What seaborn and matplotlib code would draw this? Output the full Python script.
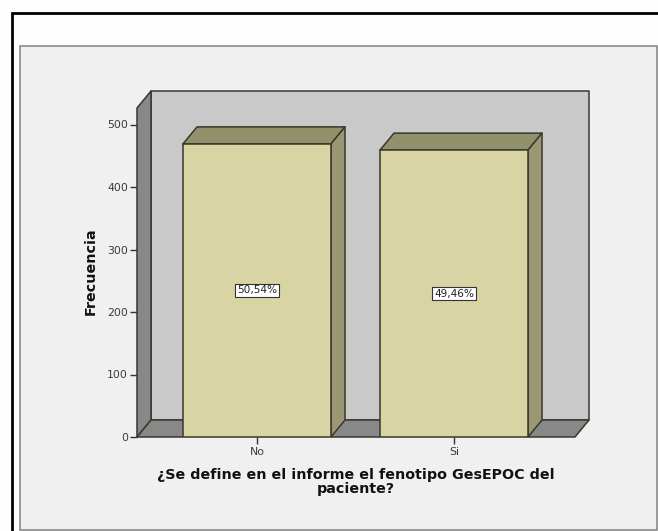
import matplotlib
matplotlib.use("Agg")
import matplotlib.pyplot as plt
from matplotlib.patches import Polygon, Rectangle
import pandas as pd
import seaborn as sns

# Survey answers and their counts
answers = ["No", "Si"]
counts = [469, 459]
share_labels = ["50,54%", "49,46%"]
y_ticks = [0, 100, 200, 300, 400, 500]

WIDTH, HEIGHT = 658, 531
FRONT = "#d8d4a3"
TOP = "#93906c"
SIDE = "#9a9772"
WALL = "#c9c9c9"
SHADE = "#888888"
EDGE = "#38382c"

sns.set_theme(style="white")
plt.rcParams["font.family"] = ["DejaVu Sans"]

fig = plt.figure(figsize=(WIDTH / 100, HEIGHT / 100), dpi=100, facecolor="#fdfdfd")


def box(x0, y0, x1, y1, **kw):
    """Rectangle on the figure, given in pixels from the top-left corner."""
    fig.add_artist(Rectangle((x0 / WIDTH, 1 - y1 / HEIGHT), (x1 - x0) / WIDTH, (y1 - y0) / HEIGHT,
                             transform=fig.transFigure, zorder=-5, **kw))


box(12, 12.5, 700, 600, facecolor="none", edgecolor="black", linewidth=2.0)
box(20, 46, 657, 530, facecolor="#f0f0f0", edgecolor="#808080", linewidth=1.1)

# Plot area = front plane of the pseudo-3D box
left, right, bottom, top = 137, 575, 437, 108
ax = fig.add_axes([left / WIDTH, 1 - bottom / HEIGHT, (right - left) / WIDTH, (bottom - top) / HEIGHT])
frame = pd.DataFrame({"respuesta": answers, "frecuencia": counts})
sns.barplot(data=frame, x="respuesta", y="frecuencia", color=FRONT, saturation=1, width=148 / 197,
            edgecolor=EDGE, linewidth=1.1, zorder=4, ax=ax)

px_x = 197.0           # pixels per category step
px_y = 0.625           # pixels per count
ax.set_xlim((left - 257) / px_x, (right - 257) / px_x)
ax.set_ylim(0, (bottom - top) / px_y)
ax.patch.set_visible(False)
for spine in ax.spines.values():
    spine.set_visible(False)

# Depth of the box, in data units
dx = 14 / px_x
dy = 17 / px_y
x0, x1 = ax.get_xlim()
y1 = ax.get_ylim()[1]


def face(points, color, z):
    ax.add_patch(Polygon(points, closed=True, facecolor=color, edgecolor=EDGE, linewidth=1.1,
                         joinstyle="round", clip_on=False, zorder=z))


# Back wall, left wall and floor
face([(x0 + dx, dy), (x1 + dx, dy), (x1 + dx, y1 + dy), (x0 + dx, y1 + dy)], WALL, 1)
face([(x0, 0), (x0 + dx, dy), (x0 + dx, y1 + dy), (x0, y1)], SHADE, 1.5)
face([(x0, 0), (x1, 0), (x1 + dx, dy), (x0 + dx, dy)], SHADE, 1.5)

# Top and side faces of each bar, plus its share label
half = 74 / px_x
for i, (value, label) in enumerate(zip(counts, share_labels)):
    face([(i - half, value), (i + half, value), (i + half + dx, value + dy), (i - half + dx, value + dy)], TOP, 3)
    face([(i + half, 0), (i + half + dx, dy), (i + half + dx, value + dy), (i + half, value)], SIDE, 3)
    ax.text(i, value / 2, label, ha="center", va="center", fontsize=7.6, color="#222222", zorder=6,
            bbox=dict(boxstyle="square,pad=0.16", facecolor="white", edgecolor="#333333", linewidth=0.8))

ax.set_yticks(y_ticks)
ax.tick_params(axis="both", which="major", length=5, width=1, color="#333333", labelcolor="#3a3a3a",
               labelsize=7.8, pad=1.5, left=True, bottom=True)
ax.tick_params(axis="x", pad=2.5)
ax.set_xlabel("")
ax.set_ylabel("")

fig.text(91 / WIDTH, 1 - 271.5 / HEIGHT, "Frecuencia", rotation=90, ha="center", va="center",
         fontsize=10.3, fontweight="bold", color="#111111")
fig.text(355.5 / WIDTH, 1 - 482 / HEIGHT, "¿Se define en el informe el fenotipo GesEPOC del\npaciente?",
         ha="center", va="center", fontsize=10.3, fontweight="bold", color="#111111", linespacing=1.0)

fig.savefig("out.png", dpi=100, facecolor=fig.get_facecolor())
